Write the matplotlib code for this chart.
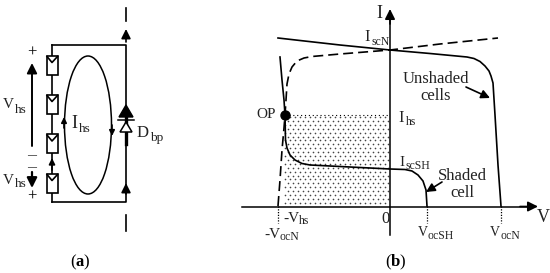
import numpy as np
import matplotlib.pyplot as plt
from matplotlib.patches import Ellipse, Rectangle

plt.rcParams['font.family'] = ['Liberation Serif', 'DejaVu Serif']
plt.rcParams['mathtext.fontset'] = 'custom'
plt.rcParams['mathtext.bf'] = 'Liberation Serif:bold'

# IV curves of panel (b)
unshaded_x = [278, 300, 340, 390, 430, 467, 474, 480, 485, 489, 491, 493, 495, 498, 501]
unshaded_y = [38, 40.5, 45, 50, 53.5, 57, 58.5, 61.5, 66, 71, 76, 83, 115, 165, 206]
reverse_x = [280, 282, 284, 285]
reverse_y = [57, 80, 100, 115]
dashed_x = [278, 280, 282, 284, 285, 286, 287, 289, 292, 297, 304, 312, 340, 390, 440, 498]
dashed_y = [206, 180, 150, 128, 115, 100, 84, 74, 67, 61, 58, 56.5, 54, 50, 44, 38]
shaded_x = [285, 285.5, 287, 290, 295, 302, 310, 350, 390, 405, 412, 418, 423, 426, 427]
shaded_y = [115, 140, 148, 155, 160, 163.5, 165, 167, 169, 169.5, 171, 175, 181, 190, 206]

op_x, op_y = 285, 115
origin_x, origin_y = 390, 206.5
voc_neg_x = 278
voc_sh_x = 427
voc_n_x = 501

# module positions of panel (a), top edge of each box
module_tops = [55.5, 94.5, 134, 173.5]

texts_a = [(3, 105, 'V', 11), (14.5, 110, 'hs', 9.5), (3, 180, 'V', 11), (14.5, 184, 'hs', 9.5),
           (71, 124, 'I', 13), (79, 129, 'hs', 9.5), (137, 133, 'D', 12), (150, 138, 'bp', 9.5)]
texts_b = [(256, 114, 'OP', 11), (364, 37, 'I', 12), (372, 42, 'scN', 8.5), (376, 14, 'I', 13),
           (398, 118, 'I', 12), (406, 122, 'hs', 8.5), (399, 162, 'I', 11), (405, 166, 'scSH', 8.5),
           (283, 218, '-V', 11), (299, 221, 'hs', 8.5), (264, 235, '-V', 11), (279.5, 237, 'ocN', 8.5),
           (381, 219, '0', 12), (537, 218, 'V', 13), (417.5, 233, 'V', 10), (428, 236, 'ocSH', 8.5),
           (490, 233, 'V', 10), (500.5, 236, 'ocN', 8.5)]

fig = plt.figure(figsize=(5.5, 2.73), dpi=100)
ax = fig.add_axes([0, 0, 1, 1])
ax.set_xlim(0, 550)
ax.set_ylim(273, 0)
ax.axis('off')


def arrow(ax, start, end, lw=1.2, size=12):
    ax.annotate('', xy=end, xytext=start,
                arrowprops=dict(arrowstyle='-|>', color='black', lw=lw,
                                mutation_scale=size, shrinkA=0, shrinkB=0))


def module(ax, top):
    ax.add_patch(Rectangle((46.5, top), 11.5, 19, fc='white', ec='black', lw=1.2, zorder=3))
    ax.plot([47, 52, 57.5], [top + 1, top + 7, top + 1], color='black', lw=1.2, zorder=4)


# panel (a)
ax.plot([126, 126], [8, 21], color='black', lw=1.2)
ax.plot([126, 126], [215, 231], color='black', lw=1.2)
ax.plot([52, 126, 126, 52], [45, 45, 202, 202], color='black', lw=1.2)
ax.plot([52, 52], [45, 202], color='black', lw=1.2)
for top in module_tops:
    module(ax, top)
ax.add_patch(Ellipse((88, 125), 47, 138, fc='none', ec='black', lw=1.1))
arrow(ax, (126, 42), (126, 29), size=14)
arrow(ax, (126, 194), (126, 183), size=14)
arrow(ax, (52, 170), (52, 158), size=9)
arrow(ax, (64, 128), (64, 117), size=8)
arrow(ax, (112, 125), (112, 136), size=8)
arrow(ax, (32, 146), (32, 63), lw=1.4, size=15)
arrow(ax, (32, 172), (32, 188), lw=1.6, size=15)
ax.plot([126, 126], [118, 144], color='black', lw=2.4)
ax.fill([119, 133, 126], [117, 117, 105], color='black')
ax.plot([118, 134], [120, 120], color='black', lw=1.1)
ax.fill([120, 132, 126], [132, 132, 122], fc='white', ec='black', lw=1.1, zorder=3)
for x, y, s, fs, w in [(32, 53, '+', 12, 'normal'), (32, 197, '+', 12, 'normal'),
                       (32, 155, '—', 6.5, 'bold'), (32, 167, '—', 6.5, 'bold')]:
    ax.text(x, y, s, fontsize=fs, ha='center', va='center', fontweight=w)
for x, y, s, fs in texts_a:
    ax.text(x, y, s, fontsize=fs, ha='left', va='center', color='#222222')
ax.text(80, 262, r'($\mathbf{a}$)', fontsize=12, ha='center', va='center')

# panel (b)
dots_x = np.arange(285, 390, 5.0)
dots_y = np.arange(117, 206, 3.9)
gx, gy = np.meshgrid(dots_x, dots_y)
gx[1::2] += 2.5
ax.scatter(gx.ravel(), gy.ravel(), s=1.4, color='#444444', linewidths=0)
ax.plot([285, 390], [115, 115], color='black', lw=0.8, ls=(0, (1, 2.5)))

ax.plot([242, 530], [origin_y, origin_y], color='black', lw=1.1)
ax.plot([origin_x, origin_x], [235, 18], color='black', lw=1.1)
arrow(ax, (520, origin_y), (538, origin_y), size=15)
arrow(ax, (origin_x, 24), (origin_x, 9), size=15)

ax.plot(unshaded_x, unshaded_y, color='black', lw=1.2)
ax.plot(reverse_x, reverse_y, color='black', lw=1.2)
ax.plot(dashed_x, dashed_y, color='black', lw=1.2, ls=(0, (6, 3)))
ax.plot(shaded_x, shaded_y, color='black', lw=1.2)
ax.plot([op_x], [op_y], 'o', color='black', ms=6.5)
for x in [voc_neg_x, voc_sh_x, voc_n_x]:
    ax.plot([x, x], [206, 223], color='black', lw=0.9, ls=(0, (1, 1.2)))

arrow(ax, (466, 87), (490, 98), size=13)
arrow(ax, (442, 182), (426, 192), size=13)
ax.text(436, 79, 'Unshaded', fontsize=12, ha='center', va='center', color='#222222')
ax.text(436, 96, 'cells', fontsize=12, ha='center', va='center', color='#222222')
ax.text(462, 176, 'Shaded', fontsize=12, ha='center', va='center', color='#222222')
ax.text(462, 193, 'cell', fontsize=12, ha='center', va='center', color='#222222')
for x, y, s, fs in texts_b:
    ax.text(x, y, s, fontsize=fs, ha='left', va='center', color='#222222')
ax.text(396, 262, r'($\mathbf{b}$)', fontsize=12, ha='center', va='center')

fig.savefig('out.png', dpi=100)
